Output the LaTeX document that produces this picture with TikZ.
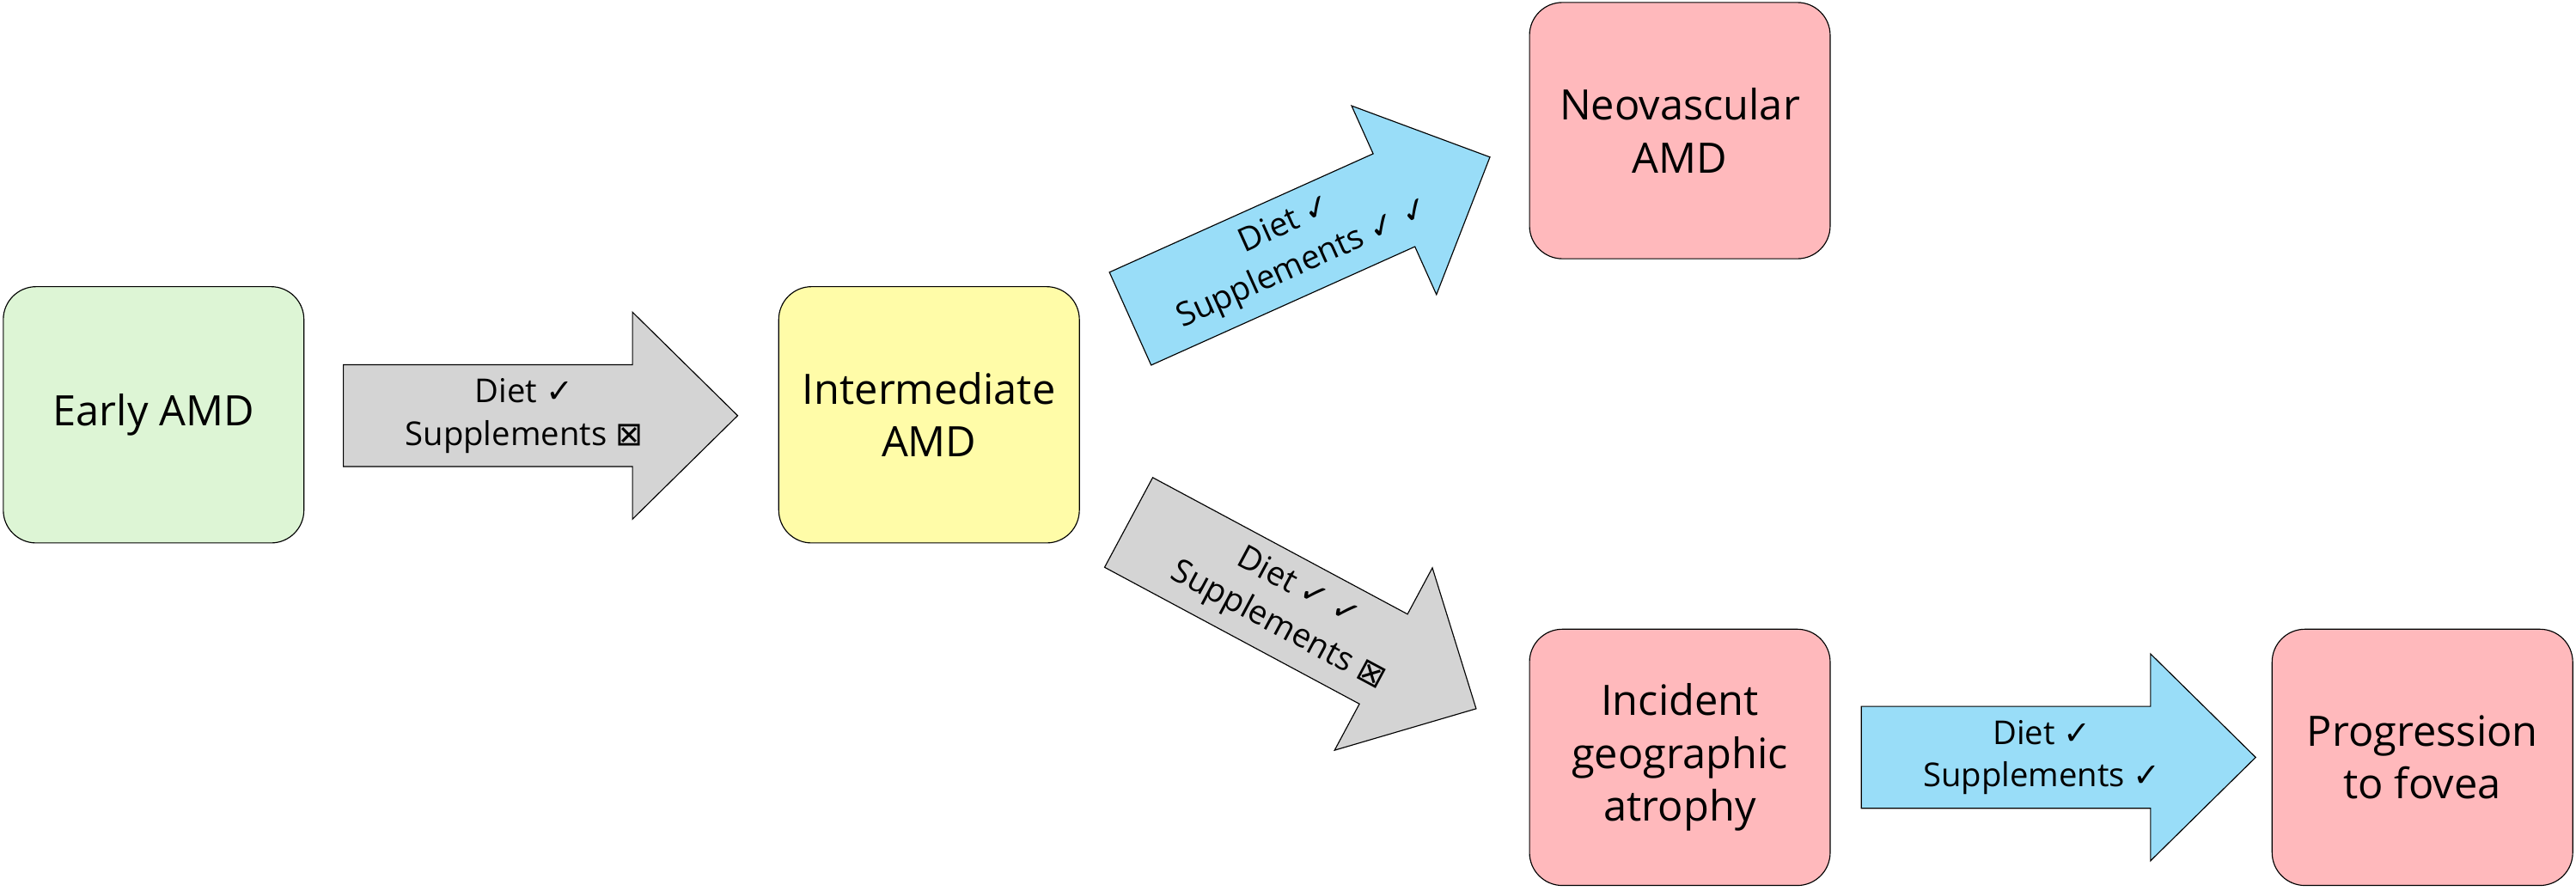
\documentclass[tikz,border=0pt]{standalone}
\usepackage{fontspec}
\setmainfont{Open Sans}
\newfontfamily\symf{DejaVu Sans}
\definecolor{cgreen}{HTML}{DDF5D5}
\definecolor{cyellow}{HTML}{FFFCA8}
\definecolor{cpink}{HTML}{FFB9BC}
\definecolor{cgray}{HTML}{D4D4D4}
\definecolor{cblue}{HTML}{99DDF8}
\newcommand{\ck}{{\symf\char"2713}}
\newcommand{\bx}{{\symf\char"22A0}}
\newcommand{\bigarr}[6]{%
 \begin{scope}[shift={(#1,#2)},rotate=#3]
 \draw[fill=#4,line width=0.6pt] (0,-31)--(176,-31)--(176,-63)--(240,0)--(176,63)--(176,31)--(0,31)--cycle;
 \node[arrtxt,rotate=#3] (#6) at (110,0) {#5};
 \end{scope}}
\begin{document}
\begin{tikzpicture}[x=1pt,y=1pt,
 box/.style={draw,line width=0.6pt,rounded corners=20pt,minimum width=183pt,minimum height=156pt,align=center,font=\fontsize{25.5}{32}\selectfont},
 arrtxt/.style={align=center,font=\fontsize{20}{26}\selectfont,inner sep=0pt}]
\useasboundingbox (0,0) rectangle (1568,542);
\node[box,fill=cgreen] (early) at (93.5,289.5) {Early AMD};
\node[box,fill=cyellow] (inter) at (565.5,289.5) {Intermediate\\AMD};
\node[box,fill=cpink] (neo) at (1022.5,462.5) {Neovascular\\AMD};
\node[box,fill=cpink] (ga) at (1022.5,81) {Incident\\geographic\\atrophy};
\node[box,fill=cpink] (fov) at (1474.5,81) {Progression\\to fovea};
\bigarr{209}{289}{0}{cgray}{Diet \ck\\Supplements \bx}{a1}
\bigarr{1133}{81}{0}{cblue}{Diet \ck\\Supplements \ck}{a2}
\bigarr{688}{348}{24.2}{cblue}{Diet \ck\\Supplements \ck\ \ck}{a3}
\bigarr{687}{224}{-28.2}{cgray}{Diet \ck\ \ck\\Supplements \bx}{a4}
\end{tikzpicture}
\end{document}
